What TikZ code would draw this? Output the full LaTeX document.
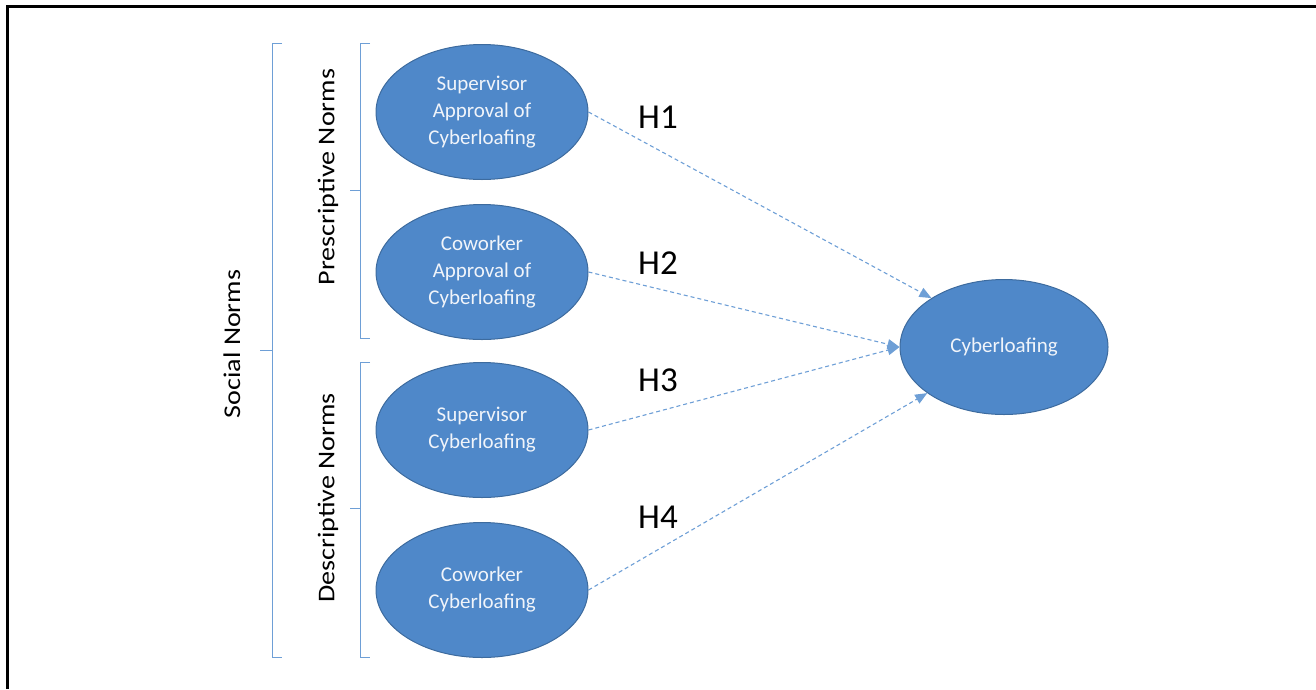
\documentclass[tikz,border=0pt]{standalone}
\usepackage{fontspec}
\setmainfont{Carlito}
\usetikzlibrary{shapes.geometric,arrows.meta}
\definecolor{efill}{HTML}{4F88C9}
\definecolor{edraw}{HTML}{3D6B9E}
\definecolor{lblue}{HTML}{6E9FD6}
\definecolor{etext}{HTML}{F0F4FA}
\begin{document}
\begin{tikzpicture}[x=1pt,y=-1pt,
 cnode/.style={ellipse,fill=efill,draw=edraw,line width=1pt,minimum width=212pt,minimum height=135pt,inner sep=0pt,text=etext,align=center,font=\fontsize{21}{27}\selectfont},
 hlabel/.style={font=\fontsize{35}{40}\selectfont,text=black,inner sep=0pt},
 grp/.style={font=\fontsize{24}{28}\selectfont,rotate=90,inner sep=0pt},
 brk/.style={draw=lblue,line width=1pt},
 link/.style={draw=lblue,line width=1.1pt,dash pattern=on 4pt off 3pt,-{Triangle[length=12pt,width=10pt]}}]
\useasboundingbox (0,0) rectangle (1316,689);
\draw[line width=2.5pt] (7.5,689) -- (7.5,6.5) -- (1316,6.5);

\node[cnode] (e1) at (482,112) {Supervisor\\Approval of\\Cyberloafing};
\node[cnode] (e2) at (482,272) {Coworker\\Approval of\\Cyberloafing};
\node[cnode] (e3) at (482,430) {Supervisor\\Cyberloafing};
\node[cnode] (e4) at (482,590) {Coworker\\Cyberloafing};
\node[cnode,minimum width=208pt] (cy) at (1004,347) {Cyberloafing};

\node[hlabel] (h1) at (658,117) {H1};
\node[hlabel] (h2) at (658,263) {H2};
\node[hlabel] (h3) at (658,380) {H3};
\node[hlabel] (h4) at (658,517) {H4};

\draw[link] (e1.east) -- (cy.146.7);
\draw[link] (e2.east) -- (cy.west);
\draw[link] (e3.east) -- (cy.west);
\draw[link] (e4.east) -- (cy.211.7);

\draw[brk] (370,43) -- (360,43) -- (360,338) -- (370,338);
\draw[brk] (350,190) -- (360,190);
\draw[brk] (370,362) -- (360,362) -- (360,657) -- (370,657);
\draw[brk] (350,508) -- (360,508);
\draw[brk] (282,43) -- (272,43) -- (272,657) -- (282,657);
\draw[brk] (260,350) -- (272,350);

\node[grp] (pn) at (328,177) {\scalebox{1.17}[1]{Prescriptive Norms}};
\node[grp] (dn) at (328,498) {\scalebox{1.17}[1]{Descriptive Norms}};
\node[grp] (sn) at (232,344) {\scalebox{1.17}[1]{Social Norms}};
\end{tikzpicture}
\end{document}
